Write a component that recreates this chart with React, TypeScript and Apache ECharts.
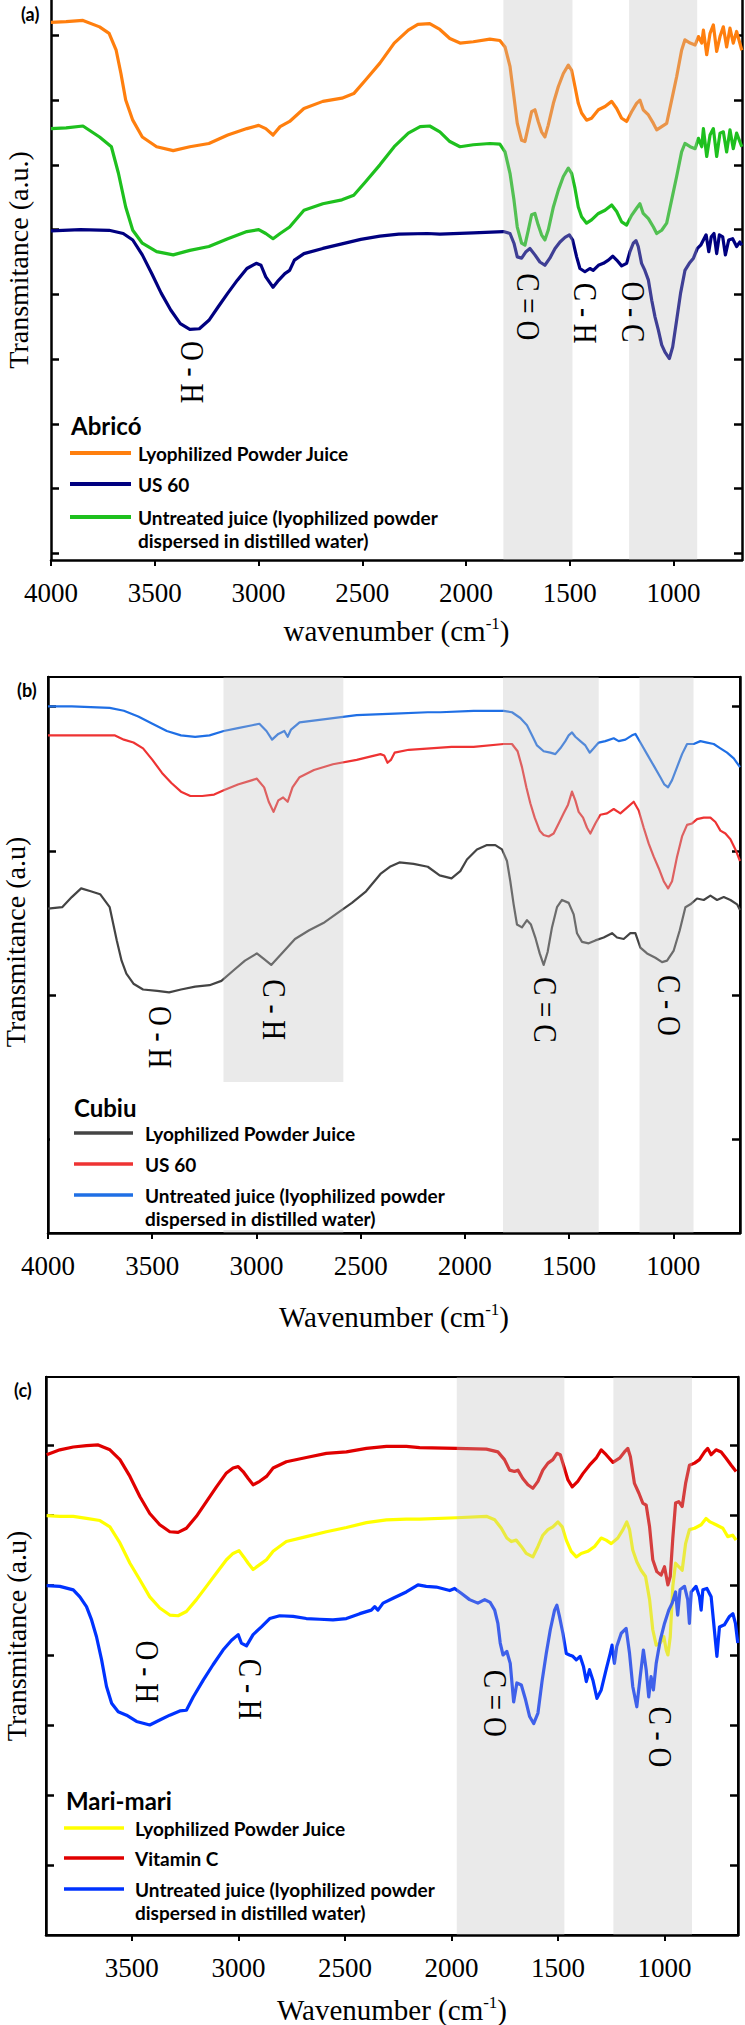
import React, { useEffect, useRef } from "react";
import * as echarts from "echarts";

type Pt = [number, number];

// ---------- Panel (a): Abricó ----------
const abricoPowder: Pt[] = [
  [4000, 8.2], [3927, 8.21], [3846, 8.23], [3766, 8.13], [3720, 8.03], [3686, 7.77], [3663, 7.41], [3640, 7.0],
  [3606, 6.69], [3560, 6.43], [3491, 6.28], [3411, 6.22], [3331, 6.28], [3239, 6.33], [3148, 6.46], [3056, 6.56],
  [2999, 6.61], [2965, 6.56], [2930, 6.46], [2896, 6.59], [2850, 6.67], [2781, 6.87], [2690, 6.98], [2598, 7.03],
  [2541, 7.1], [2484, 7.31], [2415, 7.57], [2346, 7.88], [2278, 8.08], [2232, 8.17], [2175, 8.18], [2126, 8.09],
  [2078, 7.95], [2029, 7.88], [1965, 7.9], [1885, 7.94], [1837, 7.92], [1812, 7.82], [1788, 7.52], [1769, 7.05],
  [1753, 6.64], [1732, 6.38], [1716, 6.36], [1700, 6.59], [1684, 6.82], [1668, 6.85], [1652, 6.67], [1636, 6.51],
  [1620, 6.43], [1604, 6.61], [1579, 6.95], [1555, 7.21], [1531, 7.41], [1507, 7.54], [1491, 7.46], [1475, 7.21],
  [1459, 6.95], [1443, 6.8], [1419, 6.69], [1395, 6.72], [1362, 6.85], [1330, 6.9], [1298, 6.98], [1274, 6.87],
  [1250, 6.72], [1226, 6.67], [1202, 6.82], [1178, 6.95], [1162, 7.0], [1146, 6.85], [1121, 6.77], [1097, 6.64],
  [1081, 6.54], [1057, 6.59], [1033, 6.64], [1009, 7.0], [985, 7.36], [961, 7.77], [945, 7.93], [920, 7.88],
  [896, 7.85], [880, 7.98], [864, 7.88], [856, 8.08], [840, 7.7], [824, 8.03], [808, 8.16], [792, 7.75],
  [776, 7.98], [760, 8.13], [744, 7.82], [728, 8.11], [712, 7.88], [696, 8.06], [671, 7.77],
];
const abricoUS60: Pt[] = [
  [4000, 4.98], [3858, 5.0], [3720, 4.99], [3652, 4.94], [3606, 4.84], [3560, 4.61], [3514, 4.32], [3469, 4.02],
  [3423, 3.76], [3377, 3.55], [3331, 3.46], [3285, 3.47], [3239, 3.6], [3194, 3.81], [3148, 4.02], [3102, 4.22],
  [3056, 4.4], [3011, 4.48], [2988, 4.45], [2965, 4.27], [2930, 4.11], [2908, 4.2], [2873, 4.32], [2850, 4.37],
  [2827, 4.53], [2781, 4.63], [2690, 4.71], [2598, 4.78], [2507, 4.85], [2415, 4.9], [2324, 4.93], [2186, 4.94],
  [2126, 4.93], [1965, 4.95], [1820, 4.97], [1788, 4.94], [1769, 4.79], [1753, 4.58], [1732, 4.56], [1711, 4.66],
  [1692, 4.71], [1668, 4.61], [1644, 4.5], [1620, 4.45], [1596, 4.56], [1571, 4.71], [1547, 4.81], [1523, 4.88],
  [1502, 4.92], [1486, 4.84], [1467, 4.58], [1451, 4.4], [1427, 4.35], [1403, 4.4], [1387, 4.37], [1362, 4.45],
  [1338, 4.48], [1314, 4.53], [1293, 4.59], [1274, 4.53], [1250, 4.44], [1226, 4.48], [1210, 4.66], [1194, 4.79],
  [1181, 4.83], [1170, 4.74], [1154, 4.48], [1138, 4.37], [1121, 4.22], [1105, 3.91], [1089, 3.65], [1073, 3.45],
  [1057, 3.22], [1041, 3.11], [1020, 3.01], [1004, 3.19], [985, 3.6], [966, 4.02], [945, 4.37], [924, 4.48],
  [904, 4.56], [885, 4.71], [869, 4.76], [856, 4.84], [843, 4.92], [830, 4.66], [818, 4.89], [805, 4.94],
  [792, 4.63], [779, 4.92], [763, 4.89], [750, 4.61], [734, 4.84], [715, 4.86], [696, 4.74], [680, 4.81], [671, 4.76],
];
const abricoUntreated: Pt[] = [
  [4000, 6.56], [3927, 6.57], [3846, 6.6], [3766, 6.43], [3709, 6.28], [3675, 5.87], [3640, 5.35], [3606, 4.99],
  [3560, 4.79], [3491, 4.66], [3411, 4.61], [3331, 4.68], [3239, 4.74], [3148, 4.86], [3056, 4.97], [2999, 5.0],
  [2965, 4.94], [2930, 4.86], [2896, 4.94], [2850, 5.04], [2781, 5.3], [2690, 5.4], [2598, 5.46], [2541, 5.53],
  [2484, 5.74], [2415, 6.0], [2346, 6.28], [2278, 6.49], [2221, 6.59], [2175, 6.6], [2126, 6.51], [2078, 6.36],
  [2029, 6.28], [1965, 6.31], [1885, 6.33], [1837, 6.32], [1812, 6.2], [1788, 5.87], [1769, 5.46], [1753, 5.04],
  [1732, 4.79], [1716, 4.76], [1700, 4.99], [1684, 5.23], [1668, 5.25], [1652, 5.07], [1636, 4.92], [1620, 4.84],
  [1604, 4.99], [1579, 5.35], [1555, 5.61], [1531, 5.82], [1507, 5.95], [1491, 5.87], [1475, 5.64], [1459, 5.35],
  [1443, 5.2], [1419, 5.1], [1395, 5.15], [1362, 5.25], [1330, 5.3], [1298, 5.38], [1274, 5.28], [1250, 5.12],
  [1226, 5.07], [1202, 5.22], [1178, 5.33], [1162, 5.4], [1146, 5.25], [1121, 5.17], [1097, 5.04], [1081, 4.94],
  [1057, 4.99], [1033, 5.1], [1009, 5.46], [985, 5.82], [961, 6.2], [945, 6.33], [920, 6.28], [896, 6.25],
  [880, 6.41], [864, 6.28], [856, 6.56], [840, 6.13], [824, 6.46], [808, 6.56], [792, 6.13], [776, 6.49],
  [760, 6.51], [744, 6.2], [728, 6.54], [712, 6.25], [696, 6.49], [671, 6.28],
];
const abricoBands: Pt[] = [[1820, 1487], [1214, 886]];
const abricoBondLabels = [
  { name: "O - H", value: [3320, 2.8] },
  { name: "C = O", value: [1700, 3.81] },
  { name: "C - H", value: [1427, 3.71] },
  { name: "O - C", value: [1194, 3.73] },
];

// ---------- Panel (b): Cubiu ----------
const cubiuPowder: Pt[] = [
  [4000, 1.6], [3932, 1.61], [3886, 1.68], [3841, 1.74], [3795, 1.72], [3750, 1.7], [3704, 1.61], [3670, 1.38],
  [3647, 1.24], [3624, 1.15], [3590, 1.08], [3544, 1.04], [3476, 1.03], [3419, 1.02], [3362, 1.04], [3294, 1.06],
  [3225, 1.07], [3168, 1.1], [3112, 1.17], [3055, 1.24], [2998, 1.29], [2963, 1.25], [2929, 1.21], [2884, 1.28],
  [2815, 1.39], [2747, 1.45], [2679, 1.5], [2610, 1.57], [2542, 1.64], [2474, 1.72], [2405, 1.84], [2360, 1.89],
  [2314, 1.92], [2246, 1.91], [2178, 1.89], [2121, 1.83], [2064, 1.81], [2022, 1.86], [1990, 1.94], [1942, 2.01],
  [1894, 2.04], [1854, 2.04], [1822, 2.01], [1798, 1.93], [1782, 1.79], [1766, 1.63], [1750, 1.49], [1726, 1.47],
  [1702, 1.52], [1683, 1.49], [1662, 1.4], [1641, 1.29], [1622, 1.21], [1603, 1.3], [1582, 1.47], [1558, 1.61],
  [1534, 1.66], [1502, 1.64], [1478, 1.56], [1462, 1.43], [1438, 1.37], [1406, 1.36], [1374, 1.38], [1334, 1.4],
  [1294, 1.43], [1270, 1.4], [1238, 1.39], [1206, 1.43], [1182, 1.43], [1158, 1.33], [1126, 1.29], [1086, 1.26],
  [1054, 1.23], [1030, 1.24], [998, 1.31], [969, 1.45], [942, 1.61], [918, 1.63], [886, 1.67], [854, 1.66],
  [822, 1.69], [790, 1.66], [758, 1.68], [726, 1.66], [694, 1.63], [680, 1.59],
];
const cubiuUS60: Pt[] = [
  [4000, 2.8], [3886, 2.8], [3772, 2.8], [3681, 2.8], [3636, 2.77], [3590, 2.75], [3544, 2.71], [3499, 2.63],
  [3453, 2.54], [3408, 2.47], [3362, 2.41], [3317, 2.38], [3260, 2.38], [3203, 2.39], [3157, 2.42], [3089, 2.46],
  [3020, 2.49], [2998, 2.5], [2963, 2.44], [2941, 2.34], [2918, 2.27], [2895, 2.35], [2872, 2.37], [2850, 2.34],
  [2827, 2.44], [2793, 2.51], [2724, 2.56], [2633, 2.6], [2519, 2.63], [2405, 2.67], [2387, 2.66], [2371, 2.61],
  [2355, 2.63], [2337, 2.68], [2269, 2.7], [2064, 2.72], [1958, 2.72], [1814, 2.74], [1774, 2.74], [1747, 2.69],
  [1726, 2.58], [1705, 2.44], [1686, 2.33], [1665, 2.23], [1641, 2.14], [1622, 2.11], [1598, 2.1], [1574, 2.12],
  [1550, 2.19], [1526, 2.26], [1505, 2.32], [1486, 2.41], [1470, 2.35], [1454, 2.27], [1433, 2.23], [1414, 2.16],
  [1398, 2.12], [1374, 2.19], [1350, 2.25], [1318, 2.26], [1286, 2.29], [1254, 2.26], [1222, 2.3], [1190, 2.34],
  [1166, 2.28], [1142, 2.16], [1118, 2.05], [1094, 1.96], [1070, 1.88], [1046, 1.79], [1025, 1.74], [1006, 1.79],
  [982, 1.96], [958, 2.1], [934, 2.18], [910, 2.19], [886, 2.22], [854, 2.23], [822, 2.23], [798, 2.2],
  [774, 2.14], [750, 2.12], [726, 2.08], [702, 2.01], [680, 1.93],
];
const cubiuUntreated: Pt[] = [
  [4000, 3.0], [3886, 3.0], [3704, 2.99], [3636, 2.97], [3567, 2.93], [3499, 2.88], [3430, 2.83], [3362, 2.8],
  [3294, 2.79], [3225, 2.8], [3157, 2.83], [3089, 2.85], [3020, 2.87], [2986, 2.88], [2952, 2.83], [2925, 2.77],
  [2895, 2.81], [2866, 2.83], [2850, 2.79], [2834, 2.84], [2793, 2.89], [2679, 2.91], [2519, 2.94], [2337, 2.95],
  [2178, 2.96], [2117, 2.96], [1958, 2.97], [1814, 2.97], [1774, 2.96], [1734, 2.92], [1702, 2.87], [1678, 2.8],
  [1654, 2.73], [1622, 2.69], [1590, 2.68], [1566, 2.67], [1542, 2.71], [1518, 2.76], [1502, 2.8], [1486, 2.82],
  [1470, 2.79], [1446, 2.76], [1422, 2.73], [1401, 2.68], [1382, 2.71], [1358, 2.75], [1326, 2.76], [1286, 2.78],
  [1262, 2.76], [1230, 2.77], [1198, 2.8], [1182, 2.81], [1158, 2.75], [1126, 2.67], [1094, 2.59], [1062, 2.51],
  [1043, 2.46], [1025, 2.44], [1006, 2.49], [982, 2.58], [958, 2.67], [934, 2.74], [902, 2.74], [870, 2.76],
  [838, 2.75], [806, 2.74], [774, 2.71], [742, 2.68], [710, 2.64], [680, 2.58],
];
const cubiuBands: Pt[] = [[3158, 2583], [1817, 1358], [1162, 903]];
const cubiuBondLabels = [
  { name: "O - H", value: [3465, 0.71] },
  { name: "C - H", value: [2918, 0.9] },
  { name: "C = C", value: [1614, 0.9] },
  { name: "C - O", value: [1022, 0.93] },
];

// ---------- Panel (c): Mari-mari ----------
const mariPowder: Pt[] = [
  [3900, 5.99], [3838, 5.98], [3775, 5.98], [3713, 5.95], [3650, 5.92], [3603, 5.83], [3556, 5.6], [3509, 5.31],
  [3462, 5.07], [3416, 4.83], [3369, 4.67], [3322, 4.57], [3283, 4.56], [3244, 4.62], [3197, 4.79], [3150, 4.98],
  [3103, 5.17], [3056, 5.36], [3025, 5.45], [2997, 5.49], [2975, 5.4], [2954, 5.31], [2931, 5.22], [2900, 5.29],
  [2868, 5.36], [2837, 5.48], [2775, 5.62], [2681, 5.69], [2587, 5.76], [2493, 5.82], [2399, 5.89], [2305, 5.93],
  [2212, 5.94], [2149, 5.94], [1977, 5.96], [1836, 5.98], [1797, 5.93], [1766, 5.81], [1740, 5.67], [1719, 5.62],
  [1696, 5.64], [1672, 5.55], [1649, 5.45], [1618, 5.4], [1594, 5.55], [1571, 5.71], [1547, 5.79], [1524, 5.83],
  [1500, 5.9], [1480, 5.83], [1461, 5.64], [1438, 5.48], [1414, 5.4], [1391, 5.45], [1360, 5.48], [1328, 5.55],
  [1297, 5.67], [1274, 5.64], [1250, 5.59], [1219, 5.67], [1195, 5.79], [1177, 5.9], [1164, 5.79], [1149, 5.5],
  [1130, 5.33], [1110, 5.21], [1089, 5.12], [1070, 4.79], [1055, 4.36], [1039, 4.14], [1020, 4.17], [1003, 4.26],
  [992, 4.07], [984, 4.0], [973, 4.26], [961, 4.98], [948, 5.31], [933, 5.26], [917, 5.21], [901, 5.59],
  [883, 5.79], [859, 5.81], [828, 5.86], [805, 5.95], [786, 5.9], [758, 5.86], [726, 5.81], [703, 5.69],
  [680, 5.71], [664, 5.64],
];
const mariVitaminC: Pt[] = [
  [3900, 6.86], [3838, 6.93], [3775, 6.97], [3713, 6.99], [3658, 7.0], [3603, 6.93], [3556, 6.79], [3509, 6.55],
  [3462, 6.26], [3416, 6.02], [3369, 5.86], [3322, 5.76], [3283, 5.75], [3244, 5.81], [3197, 5.98], [3150, 6.19],
  [3103, 6.4], [3056, 6.6], [3025, 6.67], [3001, 6.69], [2978, 6.62], [2954, 6.52], [2931, 6.43], [2900, 6.48],
  [2868, 6.55], [2837, 6.67], [2775, 6.76], [2681, 6.82], [2587, 6.88], [2493, 6.9], [2399, 6.95], [2305, 6.98],
  [2212, 6.98], [2149, 6.96], [1977, 6.95], [1836, 6.94], [1782, 6.9], [1751, 6.79], [1727, 6.64], [1704, 6.62],
  [1688, 6.64], [1665, 6.52], [1641, 6.43], [1618, 6.38], [1594, 6.48], [1571, 6.64], [1547, 6.74], [1524, 6.79],
  [1505, 6.88], [1489, 6.86], [1474, 6.71], [1453, 6.5], [1433, 6.4], [1407, 6.48], [1383, 6.59], [1352, 6.71],
  [1321, 6.81], [1297, 6.93], [1274, 6.86], [1242, 6.75], [1211, 6.81], [1188, 6.9], [1172, 6.95], [1160, 6.83],
  [1141, 6.45], [1120, 6.31], [1102, 6.17], [1086, 6.14], [1070, 5.83], [1055, 5.36], [1036, 5.19], [1016, 5.14],
  [1000, 5.26], [984, 5.0], [973, 5.12], [961, 5.67], [948, 6.17], [933, 6.19], [917, 6.12], [901, 6.45],
  [883, 6.71], [859, 6.74], [836, 6.79], [812, 6.9], [797, 6.95], [781, 6.86], [758, 6.93], [734, 6.9],
  [711, 6.81], [687, 6.71], [664, 6.62],
];
const mariUntreated: Pt[] = [
  [3900, 4.99], [3838, 4.98], [3775, 4.93], [3744, 4.83], [3713, 4.69], [3689, 4.5], [3666, 4.26], [3642, 3.93],
  [3619, 3.55], [3595, 3.31], [3564, 3.19], [3525, 3.14], [3478, 3.05], [3416, 3.0], [3369, 3.07], [3322, 3.14],
  [3275, 3.2], [3244, 3.21], [3212, 3.4], [3165, 3.64], [3119, 3.86], [3072, 4.07], [3032, 4.21], [3001, 4.29],
  [2986, 4.17], [2962, 4.13], [2931, 4.29], [2892, 4.4], [2853, 4.52], [2806, 4.56], [2743, 4.55], [2681, 4.52],
  [2618, 4.51], [2556, 4.5], [2493, 4.52], [2430, 4.59], [2376, 4.64], [2360, 4.69], [2345, 4.64], [2321, 4.74],
  [2274, 4.81], [2212, 4.9], [2157, 5.0], [2118, 4.98], [2071, 4.97], [2008, 4.92], [1985, 4.95], [1954, 4.88],
  [1915, 4.79], [1876, 4.74], [1844, 4.79], [1818, 4.75], [1797, 4.64], [1782, 4.45], [1771, 4.17], [1758, 4.0],
  [1740, 4.05], [1724, 3.88], [1708, 3.33], [1693, 3.6], [1672, 3.57], [1652, 3.36], [1633, 3.12], [1614, 3.02],
  [1594, 3.17], [1574, 3.64], [1555, 4.02], [1536, 4.36], [1516, 4.64], [1505, 4.71], [1493, 4.55], [1477, 4.31],
  [1461, 4.02], [1446, 4.0], [1430, 3.98], [1414, 3.93], [1396, 3.98], [1380, 3.83], [1367, 3.62], [1352, 3.79],
  [1336, 3.64], [1317, 3.38], [1297, 3.5], [1274, 3.79], [1255, 4.02], [1246, 4.14], [1235, 3.88], [1224, 4.12],
  [1203, 4.31], [1180, 4.38], [1164, 4.02], [1149, 3.55], [1130, 3.26], [1114, 3.69], [1099, 4.07], [1086, 3.79],
  [1074, 3.4], [1063, 3.69], [1052, 3.5], [1039, 3.88], [1020, 4.21], [1000, 4.45], [980, 4.64], [964, 4.74],
  [948, 4.9], [938, 4.57], [927, 4.93], [906, 4.98], [891, 4.79], [883, 4.45], [875, 4.9], [852, 4.98],
  [836, 4.83], [828, 4.64], [820, 4.93], [801, 4.95], [781, 4.83], [766, 4.36], [754, 3.98], [742, 4.4],
  [719, 4.43], [695, 4.55], [679, 4.59], [667, 4.45], [656, 4.17],
];
const mariBands: Pt[] = [[1975, 1470], [1240, 871]];
const mariBondLabels = [
  { name: "O - H", value: [3431, 3.76] },
  { name: "C - H", value: [2946, 3.51] },
  { name: "C = O", value: [1797, 3.31] },
  { name: "C - O", value: [1023, 2.83] },
];

// Tick positions shared by the panels
const wavenumberTicks = [4000, 3500, 3000, 2500, 2000, 1500, 1000];
const wavenumberTicksC = [3500, 3000, 2500, 2000, 1500, 1000];
const abricoYTicks = [0, 1, 2, 3, 4, 5, 6, 7, 8];
const cubiuYTicks = [0, 1, 2, 3];
const mariYTicks = [1, 2, 3, 4, 5, 6, 7];

const SERIF = "Liberation Serif";
const SANS = "Lato";
const BAND_FILL = "rgba(190,190,190,0.33)";

interface Curve { name: string; color: string; data: Pt[] }
interface Panel {
  tag: string;
  tagPos: [number, number];
  fruit: string;
  grid: { left: number; right: number; top: number; height: number; border: boolean };
  xRange: [number, number];
  yRange: [number, number];
  xTicks: number[];
  yTicks: number[];
  xTitle: string;
  xNameGap: number;
  yTitle: string;
  yTitlePos: [number, number];
  lineWidth: number;
  curves: Curve[]; // legend order
  bands: Pt[];
  bondLabels: { name: string; value: number[] }[];
  legend: { titleX: number; titleY: number; lineX: [number, number]; textX: number; rows: number[]; lineWidth: number };
  legendMask?: { x: number; y: number; width: number; height: number };
}

const panels: Panel[] = [
  {
    tag: "(a)",
    tagPos: [21, 14],
    fruit: "Abricó",
    grid: { left: 51, right: 3, top: 0, height: 560, border: false },
    xRange: [670, 4000],
    yRange: [-0.1, 8.545],
    xTicks: wavenumberTicks,
    yTicks: abricoYTicks,
    xTitle: "wavenumber (cm",
    xNameGap: 55,
    yTitle: "Transmitance (a.u.)",
    yTitlePos: [18, 260],
    lineWidth: 3.2,
    curves: [
      { name: "Lyophilized Powder Juice", color: "#ff7f0e", data: abricoPowder },
      { name: "US 60", color: "#000080", data: abricoUS60 },
      { name: "Untreated juice", color: "#1ec01e", data: abricoUntreated },
    ],
    bands: abricoBands,
    bondLabels: abricoBondLabels,
    legend: { titleX: 71, titleY: 425, lineX: [70, 131], textX: 138, rows: [453, 484, 517], lineWidth: 4 },
  },
  {
    tag: "(b)",
    tagPos: [17, 690],
    fruit: "Cubiu",
    grid: { left: 48, right: 5, top: 677, height: 556, border: true },
    xRange: [680, 4000],
    yRange: [-0.646, 3.204],
    xTicks: wavenumberTicks,
    yTicks: cubiuYTicks,
    xTitle: "Wavenumber (cm",
    xNameGap: 68,
    yTitle: "Transmitance (a.u)",
    yTitlePos: [15, 942],
    lineWidth: 2.2,
    curves: [
      { name: "Lyophilized Powder Juice", color: "#444444", data: cubiuPowder },
      { name: "US 60", color: "#ee3333", data: cubiuUS60 },
      { name: "Untreated juice", color: "#1f6fe5", data: cubiuUntreated },
    ],
    bands: cubiuBands,
    bondLabels: cubiuBondLabels,
    legend: { titleX: 74, titleY: 1107, lineX: [74, 133], textX: 145, rows: [1133, 1164, 1195], lineWidth: 3.5 },
    legendMask: { x: 50, y: 1082, width: 420, height: 148 },
  },
  {
    tag: "(c)",
    tagPos: [14, 1390],
    fruit: "Mari-mari",
    grid: { left: 46, right: 7, top: 1377, height: 558, border: true },
    xRange: [655, 3903],
    yRange: [0, 7.97],
    xTicks: wavenumberTicksC,
    yTicks: mariYTicks,
    xTitle: "Wavenumber (cm",
    xNameGap: 59,
    yTitle: "Transmitance (a.u)",
    yTitlePos: [16, 1636],
    lineWidth: 3.2,
    curves: [
      { name: "Lyophilized Powder Juice", color: "#ffff00", data: mariPowder },
      { name: "Vitamin C", color: "#e00000", data: mariVitaminC },
      { name: "Untreated juice", color: "#0033ff", data: mariUntreated },
    ],
    bands: mariBands,
    bondLabels: mariBondLabels,
    legend: { titleX: 66, titleY: 1800, lineX: [64, 124], textX: 135, rows: [1828, 1858, 1889], lineWidth: 3.5 },
  },
];

const legendLabels = (p: Panel): string[][] =>
  p.curves.map((c) =>
    c.name === "Untreated juice"
      ? ["Untreated juice (lyophilized powder", "dispersed in distilled water)"]
      : [c.name]
  );

function textEl(x: number, y: number, text: string, size: number, family: string, extra: any = {}, weight = "normal") {
  return {
    type: "text",
    x,
    y,
    z: 100,
    ...extra,
    style: {
      text,
      fontSize: size,
      fontFamily: family,
      fontWeight: weight,
      fill: "#000",
      verticalAlign: "middle",
      ...(extra.style || {}),
    },
  };
}

function buildOption(): { option: any; graphic: any[] } {
  const grid: any[] = [];
  const xAxis: any[] = [];
  const yAxis: any[] = [];
  const series: any[] = [];
  const graphic: any[] = [];

  panels.forEach((p, i) => {
    grid.push({
      left: p.grid.left,
      right: p.grid.right,
      top: p.grid.top,
      height: p.grid.height,
      show: p.grid.border,
      borderColor: "#000",
      borderWidth: 2,
      backgroundColor: "transparent",
    });

    xAxis.push({
      type: "value",
      gridIndex: i,
      inverse: true,
      min: p.xRange[0],
      max: p.xRange[1],
      axisLine: { show: true, onZero: false, lineStyle: { color: "#000", width: 2.5 } },
      axisTick: { show: true, inside: false, length: 6, customValues: p.xTicks, lineStyle: { color: "#000", width: 2 } },
      axisLabel: {
        show: true,
        customValues: p.xTicks,
        formatter: (v: number) => String(v),
        margin: 19,
        fontFamily: SERIF,
        fontSize: 27,
        color: "#000",
      },
      splitLine: { show: false },
      name: `{t|${p.xTitle}}{s|-1}{t|)}`,
      nameLocation: "middle",
      nameGap: p.xNameGap,
      nameTextStyle: {
        rich: {
          t: { fontFamily: SERIF, fontSize: 29, color: "#000", lineHeight: 31 },
          s: { fontFamily: SERIF, fontSize: 17, color: "#000", lineHeight: 31, verticalAlign: "top", padding: [0, 0, 12, 0] },
        },
      },
    });

    (["left", "right"] as const).forEach((pos) => {
      yAxis.push({
        type: "value",
        gridIndex: i,
        position: pos,
        min: p.yRange[0],
        max: p.yRange[1],
        axisLine: { show: true, onZero: false, lineStyle: { color: "#000", width: 2.5 } },
        axisTick: { show: true, inside: true, length: 8, customValues: p.yTicks, lineStyle: { color: "#000", width: 2.5 } },
        axisLabel: { show: false },
        splitLine: { show: false },
      });
    });

    // spectra
    p.curves.forEach((c) => {
      series.push({
        type: "line",
        name: `${p.fruit} – ${c.name}`,
        xAxisIndex: i,
        yAxisIndex: i * 2,
        data: c.data,
        showSymbol: false,
        smooth: false,
        z: 2,
        silent: true,
        lineStyle: { color: c.color, width: p.lineWidth, join: "round" },
      });
    });

    // shaded absorption regions, drawn over the spectra
    const [yMin, yMax] = p.yRange;
    series.push({
      type: "custom",
      xAxisIndex: i,
      yAxisIndex: i * 2,
      z: 3,
      silent: true,
      data: p.bands,
      renderItem: (_params: any, api: any) => {
        const a = api.coord([api.value(0), yMax]);
        const b = api.coord([api.value(1), yMin]);
        return {
          type: "rect",
          shape: { x: Math.min(a[0], b[0]), y: a[1], width: Math.abs(b[0] - a[0]), height: b[1] - a[1] },
          style: { fill: BAND_FILL },
        };
      },
    });

    // panel tag
    graphic.push(textEl(p.tagPos[0], p.tagPos[1], p.tag, 18, SANS, {}, "bold"));

    // y axis title, reading bottom to top
    graphic.push(
      textEl(p.yTitlePos[0], p.yTitlePos[1], p.yTitle, 28, SERIF, { rotation: Math.PI / 2, style: { align: "center" } })
    );

    // legend block
    const lg = p.legend;
    if (p.legendMask) {
      graphic.push({ type: "rect", z: 90, shape: { ...p.legendMask }, style: { fill: "#ffffff" } });
    }
    graphic.push(textEl(lg.titleX, lg.titleY, p.fruit, 24, SANS, {}, "bold"));
    const names = legendLabels(p);
    p.curves.forEach((c, k) => {
      const y = lg.rows[k];
      graphic.push({
        type: "line",
        z: 100,
        shape: { x1: lg.lineX[0], y1: y, x2: lg.lineX[1], y2: y },
        style: { stroke: c.color, lineWidth: lg.lineWidth },
      });
      names[k].forEach((txt, j) => {
        graphic.push(textEl(lg.textX, y + j * 23, txt, 19, SANS, {}, "bold"));
      });
    });
  });

  return {
    option: {
      animation: false,
      backgroundColor: "#ffffff",
      grid,
      xAxis,
      yAxis,
      series,
      graphic: { elements: graphic },
    },
    graphic,
  };
}

export default function App() {
  const ref = useRef<HTMLDivElement>(null);

  useEffect(() => {
    document.body.style.margin = "0";
    const el = ref.current;
    if (!el) return;
    const chart = echarts.init(el, undefined, { renderer: "svg" });
    const { option, graphic } = buildOption();
    chart.setOption(option);

    // bond assignments, placed through each panel's axes and written top to bottom
    // (tall, slightly condensed serif glyphs)
    const bondTexts: any[] = [];
    panels.forEach((p, i) => {
      p.bondLabels.forEach((b) => {
        const pt = chart.convertToPixel({ gridIndex: i }, b.value) as number[];
        bondTexts.push(
          textEl(pt[0], pt[1], b.name, 33, SERIF, {
            rotation: -Math.PI / 2,
            scaleX: 0.83,
            style: { align: "center" },
          })
        );
      });
    });
    chart.setOption({ graphic: { elements: [...graphic, ...bondTexts] } });

    return () => {
      chart.dispose();
    };
  }, []);

  return <div ref={ref} style={{ width: 745, height: 2025 }} />;
}
